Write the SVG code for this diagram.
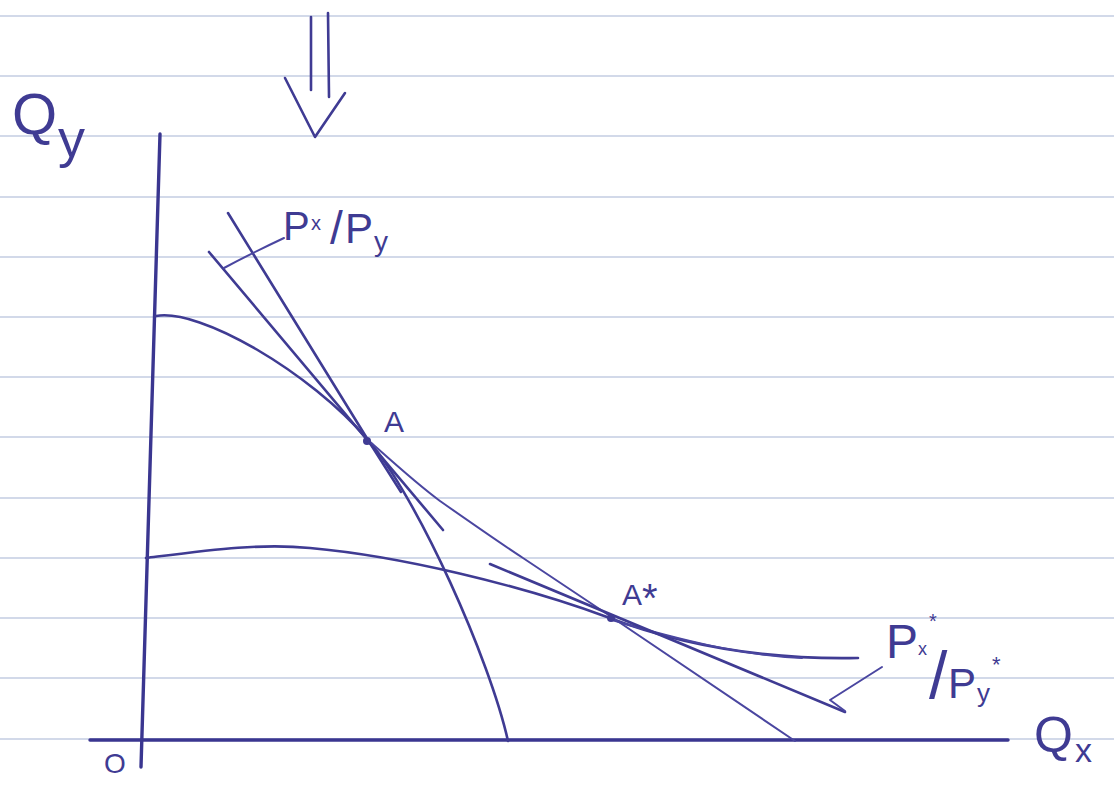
<svg xmlns="http://www.w3.org/2000/svg" width="1114" height="787" viewBox="0 0 1114 787">
<defs>
<style>
.rule{stroke:#c3cde2;stroke-width:1.5;fill:none}
.ink{stroke:#3f3b93;stroke-width:2.6;fill:none;stroke-linecap:round;stroke-linejoin:round}
.axis{stroke:#3a3690;stroke-width:3.4;fill:none;stroke-linecap:round}
.thin{stroke:#4a46a0;stroke-width:2;fill:none;stroke-linecap:round;stroke-linejoin:round}
.lbl{font-family:"Liberation Sans","DejaVu Sans",sans-serif;fill:#3f3b93}
</style>
</defs>
<rect width="1114" height="787" fill="#ffffff"/>
<g id="paper-rules">
<line class="rule" x1="0" y1="16" x2="1114" y2="16"/>
<line class="rule" x1="0" y1="76" x2="1114" y2="76"/>
<line class="rule" x1="0" y1="136" x2="1114" y2="136"/>
<line class="rule" x1="0" y1="197" x2="1114" y2="197"/>
<line class="rule" x1="0" y1="257" x2="1114" y2="257"/>
<line class="rule" x1="0" y1="317" x2="1114" y2="317"/>
<line class="rule" x1="0" y1="377" x2="1114" y2="377"/>
<line class="rule" x1="0" y1="437" x2="1114" y2="437"/>
<line class="rule" x1="0" y1="498" x2="1114" y2="498"/>
<line class="rule" x1="0" y1="558" x2="1114" y2="558"/>
<line class="rule" x1="0" y1="618" x2="1114" y2="618"/>
<line class="rule" x1="0" y1="678" x2="1114" y2="678"/>
<line class="rule" x1="0" y1="739" x2="1114" y2="739"/>
</g>
<g id="arrow-down">
<line class="ink" x1="311" y1="17" x2="311" y2="90"/>
<line class="ink" x1="328" y1="13" x2="329" y2="97"/>
<polyline class="ink" points="285,78 315,137 345,93"/>
</g>
<g id="axes">
<line class="axis" x1="160" y1="134" x2="141" y2="767"/>
<line class="axis" x1="90" y1="740" x2="1008" y2="740"/>
</g>
<g id="connectors">
<path id="ppf1" class="ink" d="M156,316 C200,308 310,372 368,440 C418,498 490,660 508,741"/>
<path id="ppf2" class="ink" d="M146,558 C210,550 260,543 310,548 C400,556 520,585 607,617 C680,645 760,660 858,658"/>
<path id="ppf2-retrace" class="thin" d="M612,620 C680,640 740,655 802,658"/>
<line id="price-line-1a" class="ink" x1="209" y1="252" x2="443" y2="530"/>
<polyline id="price-line-1b" class="ink" points="228,213 368,440 401,492"/>
<path id="line-a-astar" class="thin" d="M368,440 C395,464 418,485 440,501 C470,522 500,543 523,558 L610,616 L795,741"/>
<line id="price-line-2" class="ink" x1="490" y1="564" x2="845" y2="712"/>
<path id="leader-1" class="thin" d="M224,268 Q250,254 284,238"/>
<polyline id="leader-2" class="thin" points="882,667 830,700 845,711"/>
</g>
<g id="point-A">
<circle cx="367" cy="441" r="4" fill="#3f3b93"/>
<text class="lbl" x="384" y="432" font-size="30">A</text>
</g>
<g id="point-Astar">
<circle cx="611" cy="618" r="4" fill="#3f3b93"/>
<text class="lbl" x="622" y="605" font-size="30">A<tspan font-size="40" y="612">*</tspan></text>
</g>
<g id="label-Qy">
<text class="lbl" x="12" y="134" font-size="58">Q<tspan x="58" y="157" font-size="54">y</tspan></text>
</g>
<g id="label-Qx">
<text class="lbl" x="1034" y="752" font-size="50">Q<tspan x="1075" y="762" font-size="34">x</tspan></text>
</g>
<g id="label-origin">
<text class="lbl" x="104" y="773" font-size="28">O</text>
</g>
<g id="label-price-1">
<text class="lbl" x="283" y="240" font-size="40">P<tspan x="311" y="230" font-size="20">x</tspan><tspan x="330" y="244" font-size="46">/</tspan><tspan x="345" y="243" font-size="42">P</tspan><tspan x="374" y="251" font-size="28">y</tspan></text>
</g>
<g id="label-price-2">
<text class="lbl" x="886" y="658" font-size="48">P<tspan x="918" y="655" font-size="18">x</tspan><tspan x="929" y="628" font-size="20">*</tspan><tspan x="929" y="698" font-size="66">/</tspan><tspan x="948" y="698" font-size="42">P</tspan><tspan x="977" y="702" font-size="26">y</tspan><tspan x="992" y="672" font-size="22">*</tspan></text>
</g>
</svg>
